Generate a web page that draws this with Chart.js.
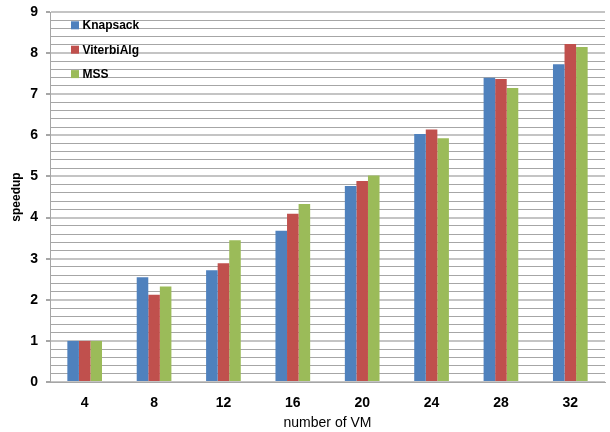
<!DOCTYPE html>
<html>
<head>
<meta charset="utf-8">
<script src="https://cdn.jsdelivr.net/npm/chart.js@4/dist/chart.umd.min.js"></script>
<style>
  html, body { margin: 0; padding: 0; background: #fff; }
  canvas { display: block; }
</style>
</head>
<body>
<canvas id="c" width="610" height="432"></canvas>
<script>
// Number of virtual machines on the x axis
const categories = ['4', '8', '12', '16', '20', '24', '28', '32'];

// Speedup per benchmark
const knapsack   = [1.00, 2.55, 2.72, 3.68, 4.77, 6.03, 7.40, 7.73];
const viterbiAlg = [1.00, 2.12, 2.89, 4.09, 4.89, 6.14, 7.37, 8.22];
const mss        = [1.00, 2.32, 3.45, 4.33, 5.02, 5.93, 7.15, 8.15];

const seriesNames = ['Knapsack', 'ViterbiAlg', 'MSS'];
const seriesColors = ['#4F81BD', '#C0504D', '#9BBB59'];

const FONT = "'Liberation Sans', Arial, sans-serif";
const isMajor = v => Math.abs(v - Math.round(v)) < 1e-6;

// Vertical legend drawn inside the plot area, top-left
const insideLegend = {
  id: 'insideLegend',
  afterDraw(chart) {
    const { ctx, chartArea } = chart;
    const x0 = chartArea.left + 21;
    const y0 = chartArea.top + 13.3;
    const step = 24.4;
    ctx.save();
    ctx.font = "bold 12px " + FONT;
    ctx.textBaseline = 'middle';
    ctx.textAlign = 'left';
    chart.data.datasets.forEach((ds, i) => {
      const cy = y0 + i * step;
      ctx.fillStyle = ds.backgroundColor;
      ctx.fillRect(x0, cy - 4, 8, 8);
      ctx.fillStyle = '#000';
      ctx.fillText(ds.label, x0 + 11.5, cy + 0.5);
    });
    ctx.restore();
  }
};

new Chart(document.getElementById('c'), {
  type: 'bar',
  data: {
    labels: categories,
    datasets: [
      { label: seriesNames[0], data: knapsack,   backgroundColor: seriesColors[0] },
      { label: seriesNames[1], data: viterbiAlg, backgroundColor: seriesColors[1] },
      { label: seriesNames[2], data: mss,        backgroundColor: seriesColors[2] }
    ]
  },
  options: {
    responsive: false,
    animation: false,
    devicePixelRatio: 1,
    layout: { padding: { left: 0, right: 5, top: 12, bottom: 0 } },
    datasets: {
      bar: { categoryPercentage: 0.5, barPercentage: 1.0, borderWidth: 0 }
    },
    plugins: {
      legend: { display: false },
      tooltip: { enabled: false }
    },
    scales: {
      x: {
        grid: { display: false, drawTicks: false },
        border: { display: true, color: '#a6a6a6', width: 1 },
        ticks: {
          color: '#000',
          padding: 13,
          font: { family: FONT, size: 14, weight: 'bold' }
        },
        title: {
          display: true,
          text: 'number of VM',
          color: '#000',
          padding: { top: 0, bottom: 0 },
          font: { family: FONT, size: 14, weight: 'normal' }
        },
        afterFit(scale) {
          scale.height = 50;
          scale.paddingLeft = 0;
          scale.paddingRight = 0;
        }
      },
      y: {
        min: 0,
        max: 9,
        grid: {
          color: ctx => isMajor(ctx.tick.value) ? '#c4c4c4' : '#a6a6a6',
          lineWidth: ctx => isMajor(ctx.tick.value) ? 2 : 1,
          tickColor: ctx => isMajor(ctx.tick.value) ? '#a6a6a6' : 'rgba(0,0,0,0)',
          tickLength: 4,
          drawTicks: true
        },
        border: { display: true, color: '#a6a6a6', width: 1 },
        ticks: {
          stepSize: 0.2,
          autoSkip: false,
          color: '#000',
          padding: 8,
          font: { family: FONT, size: 14, weight: 'bold' },
          callback: v => isMajor(v) ? String(Math.round(v)) : ''
        },
        title: {
          display: true,
          text: 'speedup',
          color: '#000',
          padding: { top: 9, bottom: 0 },
          font: { family: FONT, size: 12, weight: 'bold' }
        },
        afterFit(scale) {
          scale.width = 50;
          scale.paddingTop = 0;
          scale.paddingBottom = 0;
        }
      }
    }
  },
  plugins: [insideLegend]
});
</script>
</body>
</html>
